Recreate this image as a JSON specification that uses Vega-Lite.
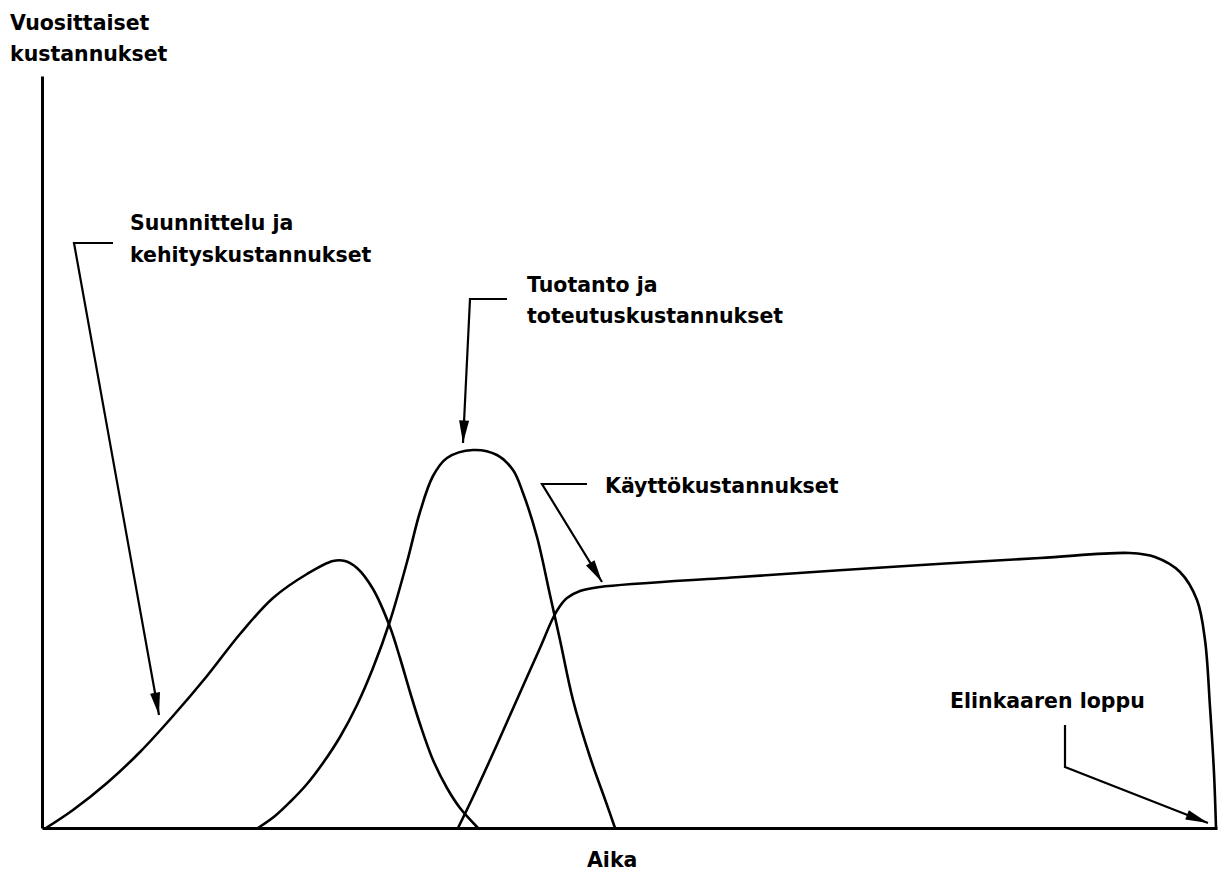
{
  "$schema": "https://vega.github.io/schema/vega-lite/v6.json",
  "width": 1175,
  "height": 752,
  "autosize": {"type": "none"},
  "padding": {"left": 42, "top": 76, "right": 9, "bottom": 44},
  "background": "white",
  "config": {
    "view": {"stroke": null},
    "axis": {"domain": true, "domainColor": "black", "domainWidth": 3, "ticks": false, "labels": false, "grid": false, "title": null}
  },
  "datasets": {
    "curves": [
      {"series": "Suunnittelu", "x": 4, "y": 0},
      {"series": "Suunnittelu", "x": 31, "y": 18},
      {"series": "Suunnittelu", "x": 65, "y": 45},
      {"series": "Suunnittelu", "x": 98, "y": 76},
      {"series": "Suunnittelu", "x": 131, "y": 112},
      {"series": "Suunnittelu", "x": 165, "y": 152},
      {"series": "Suunnittelu", "x": 198, "y": 194},
      {"series": "Suunnittelu", "x": 231, "y": 230},
      {"series": "Suunnittelu", "x": 265, "y": 254},
      {"series": "Suunnittelu", "x": 291, "y": 267},
      {"series": "Suunnittelu", "x": 303, "y": 267},
      {"series": "Suunnittelu", "x": 315, "y": 260},
      {"series": "Suunnittelu", "x": 331, "y": 239},
      {"series": "Suunnittelu", "x": 348, "y": 201},
      {"series": "Suunnittelu", "x": 358, "y": 170},
      {"series": "Suunnittelu", "x": 368, "y": 136},
      {"series": "Suunnittelu", "x": 378, "y": 104},
      {"series": "Suunnittelu", "x": 391, "y": 68},
      {"series": "Suunnittelu", "x": 405, "y": 40},
      {"series": "Suunnittelu", "x": 418, "y": 20},
      {"series": "Suunnittelu", "x": 436, "y": 0},
      {"series": "Tuotanto", "x": 216, "y": 0},
      {"series": "Tuotanto", "x": 233, "y": 12},
      {"series": "Tuotanto", "x": 248, "y": 26},
      {"series": "Tuotanto", "x": 265, "y": 44},
      {"series": "Tuotanto", "x": 281, "y": 65},
      {"series": "Tuotanto", "x": 298, "y": 91},
      {"series": "Tuotanto", "x": 315, "y": 123},
      {"series": "Tuotanto", "x": 331, "y": 160},
      {"series": "Tuotanto", "x": 348, "y": 207},
      {"series": "Tuotanto", "x": 365, "y": 266},
      {"series": "Tuotanto", "x": 378, "y": 316},
      {"series": "Tuotanto", "x": 391, "y": 352},
      {"series": "Tuotanto", "x": 405, "y": 370},
      {"series": "Tuotanto", "x": 431, "y": 378},
      {"series": "Tuotanto", "x": 455, "y": 373},
      {"series": "Tuotanto", "x": 471, "y": 358},
      {"series": "Tuotanto", "x": 481, "y": 335},
      {"series": "Tuotanto", "x": 495, "y": 291},
      {"series": "Tuotanto", "x": 508, "y": 233},
      {"series": "Tuotanto", "x": 518, "y": 188},
      {"series": "Tuotanto", "x": 531, "y": 128},
      {"series": "Tuotanto", "x": 548, "y": 71},
      {"series": "Tuotanto", "x": 565, "y": 23},
      {"series": "Tuotanto", "x": 573, "y": 0},
      {"series": "Käyttö", "x": 416, "y": 0},
      {"series": "Käyttö", "x": 431, "y": 31},
      {"series": "Käyttö", "x": 448, "y": 68},
      {"series": "Käyttö", "x": 465, "y": 106},
      {"series": "Käyttö", "x": 481, "y": 142},
      {"series": "Käyttö", "x": 498, "y": 180},
      {"series": "Käyttö", "x": 511, "y": 210},
      {"series": "Käyttö", "x": 518, "y": 222},
      {"series": "Käyttö", "x": 525, "y": 230},
      {"series": "Käyttö", "x": 538, "y": 237},
      {"series": "Käyttö", "x": 558, "y": 241},
      {"series": "Käyttö", "x": 698, "y": 251},
      {"series": "Käyttö", "x": 848, "y": 261},
      {"series": "Käyttö", "x": 998, "y": 270},
      {"series": "Käyttö", "x": 1088, "y": 275},
      {"series": "Käyttö", "x": 1113, "y": 271},
      {"series": "Käyttö", "x": 1138, "y": 256},
      {"series": "Käyttö", "x": 1155, "y": 228},
      {"series": "Käyttö", "x": 1163, "y": 188},
      {"series": "Käyttö", "x": 1168, "y": 121},
      {"series": "Käyttö", "x": 1172, "y": 55},
      {"series": "Käyttö", "x": 1174, "y": 0}
    ],
    "leaders": [
      {"leader": "A1", "order": 1, "x": 71, "y": 585},
      {"leader": "A1", "order": 2, "x": 32, "y": 585},
      {"leader": "A1", "order": 3, "x": 117, "y": 113},
      {"leader": "A2", "order": 1, "x": 465, "y": 529},
      {"leader": "A2", "order": 2, "x": 428, "y": 529},
      {"leader": "A2", "order": 3, "x": 421, "y": 385},
      {"leader": "A3", "order": 1, "x": 545, "y": 344},
      {"leader": "A3", "order": 2, "x": 500, "y": 344},
      {"leader": "A3", "order": 3, "x": 560, "y": 246},
      {"leader": "A4", "order": 1, "x": 1023, "y": 103},
      {"leader": "A4", "order": 2, "x": 1023, "y": 61},
      {"leader": "A4", "order": 3, "x": 1166, "y": 5}
    ],
    "tips": [
      {"leader": "A1", "x": 117, "y": 113},
      {"leader": "A2", "x": 421, "y": 385},
      {"leader": "A3", "x": 560, "y": 246},
      {"leader": "A4", "x": 1166, "y": 5}
    ],
    "labels": [
      {"label": "Vuosittaiset", "x": -32, "y": 798},
      {"label": "kustannukset", "x": -32, "y": 767},
      {"label": "Suunnittelu ja", "x": 88, "y": 598},
      {"label": "kehityskustannukset", "x": 88, "y": 566},
      {"label": "Tuotanto ja", "x": 485, "y": 536},
      {"label": "toteutuskustannukset", "x": 485, "y": 505},
      {"label": "Käyttökustannukset", "x": 563, "y": 335},
      {"label": "Elinkaaren loppu", "x": 908, "y": 120},
      {"label": "Aika", "x": 545, "y": -39}
    ]
  },
  "encoding": {
    "x": {"field": "x", "type": "quantitative", "scale": {"domain": [0, 1175], "nice": false, "zero": false}},
    "y": {"field": "y", "type": "quantitative", "scale": {"domain": [0, 752], "nice": false, "zero": false}}
  },
  "layer": [
    {
      "data": {"name": "curves"},
      "mark": {"type": "line", "color": "black", "strokeWidth": 2.6, "interpolate": "catmull-rom"},
      "encoding": {"detail": {"field": "series"}}
    },
    {
      "data": {"name": "leaders"},
      "mark": {"type": "line", "color": "black", "strokeWidth": 2.2},
      "encoding": {"detail": {"field": "leader"}, "order": {"field": "order", "type": "quantitative"}}
    },
    {
      "data": {"name": "tips"},
      "transform": [{"filter": "datum.leader === 'A1'"}],
      "mark": {"type": "point", "shape": "M0,0L-1,-4.5L1,-4.5Z", "size": 100, "filled": true, "color": "black", "opacity": 1, "angle": -10.1}
    },
    {
      "data": {"name": "tips"},
      "transform": [{"filter": "datum.leader === 'A2'"}],
      "mark": {"type": "point", "shape": "M0,0L-1,-4.5L1,-4.5Z", "size": 100, "filled": true, "color": "black", "opacity": 1, "angle": 2.8}
    },
    {
      "data": {"name": "tips"},
      "transform": [{"filter": "datum.leader === 'A3'"}],
      "mark": {"type": "point", "shape": "M0,0L-1,-4.5L1,-4.5Z", "size": 100, "filled": true, "color": "black", "opacity": 1, "angle": -31.5}
    },
    {
      "data": {"name": "tips"},
      "transform": [{"filter": "datum.leader === 'A4'"}],
      "mark": {"type": "point", "shape": "M0,0L-1,-4.5L1,-4.5Z", "size": 100, "filled": true, "color": "black", "opacity": 1, "angle": -68.6}
    },
    {
      "data": {"name": "labels"},
      "mark": {"type": "text", "align": "left", "baseline": "alphabetic", "font": "DejaVu Sans", "fontWeight": "bold", "fontSize": 20.5, "color": "black"},
      "encoding": {"text": {"field": "label"}}
    }
  ]
}
